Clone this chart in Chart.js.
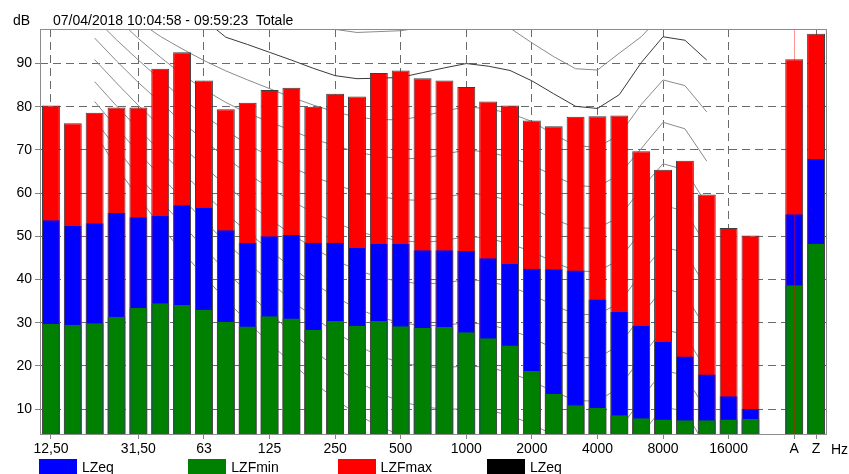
<!DOCTYPE html>
<html>
<head>
<meta charset="utf-8">
<script src="https://cdn.jsdelivr.net/npm/chart.js@4.4.1/dist/chart.umd.min.js"></script>
<style>
  html, body { margin: 0; padding: 0; background: #fff; overflow: hidden; }
  #wrap { position: relative; width: 849px; height: 474px; overflow: hidden;
          font-family: 'Liberation Sans', Arial, sans-serif; font-size: 14px; color: #000; }
  #c { position: absolute; left: 0; top: 0; }
  .t { position: absolute; line-height: 14px; white-space: pre; }
  .key { position: absolute; top: 459px; width: 38px; height: 16px; }
</style>
</head>
<body>
<div id="wrap">
  <canvas id="c" width="849" height="474"></canvas>
  <div class="t" style="left:13px;top:13px">dB</div>
  <div class="t" style="left:53px;top:13px">07/04/2018 10:04:58 - 09:59:23  Totale</div>
  <div class="t" style="left:831px;top:441.5px">Hz</div>
  <div id="legend"></div>
</div>
<script>
// Third-octave bands, then an empty slot and the A / Z broadband totals
const categories = ['12,5','16','20','25','31,5','40','50','63','80','100','125','160','200','250','315','400',
  '500','630','800','1000','1250','1600','2000','2500','3150','4000','5000','6300','8000','10000','12500',
  '16000','20000','','A','Z'];
const tickLabels = ['12,50','','','','31,50','','','63','','','125','','','250','','','500','','','1000','','',
  '2000','','','4000','','','8000','','','16000','','','A','Z'];
const gridAt = [0, 4, 7, 10, 13, 16, 19, 22, 25, 28, 31, 35];
const cursorAt = 34;
const yTicks = [10, 20, 30, 40, 50, 60, 70, 80, 90];

// Levels in dB
const lzfmax = [80.3, 76.2, 78.6, 79.8, 79.8, 88.8, 92.6, 86.1, 79.4, 80.9, 83.9, 84.4, 80.0, 83.0, 82.4, 87.8,
  88.4, 86.6, 86.1, 84.6, 81.2, 80.3, 76.8, 75.5, 77.7, 77.8, 78.0, 69.7, 65.4, 67.5, 59.7, 51.9, 50.2, null, 91.0, 96.9];
const lzeq = [53.7, 52.4, 53.0, 55.4, 54.4, 54.7, 57.2, 56.6, 51.4, 48.5, 50.0, 50.3, 48.5, 48.5, 47.3, 48.2,
  48.2, 46.8, 46.8, 46.6, 44.9, 43.6, 42.5, 42.4, 42.1, 35.4, 32.5, 29.3, 25.6, 22.2, 18.0, 13.0, 10.0, null, 55.1, 67.9];
const lzfmin = [29.7, 29.5, 29.9, 31.4, 33.4, 34.5, 34.1, 33.0, 30.2, 29.1, 31.5, 31.0, 28.3, 30.4, 29.3, 30.4,
  29.2, 28.8, 29.0, 27.8, 26.4, 24.7, 18.8, 13.5, 10.9, 10.3, 8.6, 7.9, 7.6, 7.4, 7.4, 7.6, 7.7, null, 38.7, 48.2];

// Equal-loudness contours, 20 Hz .. 12.5 kHz (band index 2 .. 30)
const contourStart = 2;
const contour0   = [74, 66, 59, 52.5, 46.5, 40.8, 35.3, 30.2, 25.3, 20.7, 16.3, 12.3, 8.8, 6, 4, 2.5, 2, 2, 1.5, 0, -2, -4.5, -6.5, -6.5, -3, 4, 10.5, 9.5, 1];
const contour10  = [77, 70.3, 64, 58.3, 52.8, 47.3, 42, 37, 32.3, 27.8, 23.6, 19.8, 16.5, 13.7, 11.8, 10.5, 10, 10, 9.8, 8.5, 6.5, 4, 2, 1.8, 5.2, 12.3, 19, 17.8, 9.5];
const contour20  = [81.2, 75.2, 69.4, 64, 58.8, 53.6, 48.6, 44, 39.5, 35.2, 31.3, 27.8, 24.8, 22.3, 20.8, 19.8, 19.6, 20, 19.7, 18.4, 16.5, 14, 12, 11.8, 15, 22, 28.5, 27.2, 18.8];
const contour30  = [85.8, 80.2, 74.8, 69.8, 64.8, 60, 55.3, 51, 46.8, 42.8, 39.2, 36, 33.3, 31.3, 30, 29.3, 29.4, 30, 29.6, 28.3, 26.5, 24, 22, 21.8, 24.8, 31.6, 38, 36.6, 28.3];
const contour40  = [90.9, 85.5, 80.3, 75.5, 70.8, 66.2, 61.8, 57.8, 54, 50.5, 47.3, 44.5, 42.2, 40.5, 39.5, 39, 39.2, 40, 39.6, 38.3, 36.5, 34, 32, 31.8, 34.6, 41.4, 47.6, 46.2, 38];
const contour50  = [95.9, 90.6, 85.6, 81, 76.5, 72.2, 68.2, 64.5, 61.2, 58.2, 55.5, 53.2, 51.2, 49.8, 49, 48.6, 49, 50, 49.6, 48.2, 46.5, 44, 42, 41.8, 44.6, 51.2, 57.2, 55.8, 47.8];
const contour60  = [100.5, 95.5, 90.8, 86.3, 82, 78, 74.5, 71.3, 68.5, 66, 63.8, 62, 60.3, 59.2, 58.5, 58.3, 59, 60, 59.6, 58.2, 56.5, 54, 52, 51.8, 54.5, 61, 66.8, 65.4, 57.4];
const contour70  = [106, 100.5, 95.8, 91.5, 87.5, 84, 81, 78.5, 76.5, 74.5, 72.5, 71, 69.5, 68.5, 68, 68, 69, 70, 69.5, 68.3, 66.5, 64, 61.8, 61.4, 64.3, 70.3, 76.4, 74.9, 67.4];
const contour80  = [113, 106.5, 99.8, 96.3, 93.4, 90.7, 88.3, 86.2, 84.2, 82.2, 80.4, 78.8, 77.6, 77, 77, 77.8, 79, 80, 79.5, 78.5, 76.6, 73.6, 71, 70.6, 73.5, 80.5, 86.2, 84.9, 78.8];
const contour90  = [118, 114, 110, 106.5, 103.2, 100.2, 96.1, 94.4, 92.6, 90.8, 88.9, 87.2, 86.5, 86.6, 86.8, 87.9, 89, 90, 89.4, 88.4, 86, 83, 80.1, 79.6, 82.8, 90.2, 96.2, 95.4, 90.8];
const contour100 = [123, 119, 115, 111.5, 108.5, 106, 104, 102.3, 100.8, 99.6, 98.6, 97.9, 97.2, 97.4, 97.6, 98.4, 99.4, 100, 99.6, 98.2, 94.8, 91.6, 88.8, 88.5, 92.4, 96.2, 101.5, 101, 99.5];
const contours = [contour0, contour10, contour20, contour30, contour40, contour50, contour60, contour70, contour80, contour90, contour100];

const legendNames  = ['LZeq', 'LZFmin', 'LZFmax', 'LZeq'];
const legendColors = ['#0000ff', '#008000', '#ff0000', '#000000'];

// Legend row under the axis
const legend = document.getElementById('legend');
legendNames.forEach((name, i) => {
  const left = 39 + i * 149.3;
  const box = document.createElement('div');
  box.className = 'key';
  box.style.left = left + 'px';
  box.style.background = legendColors[i];
  legend.appendChild(box);
  const txt = document.createElement('div');
  txt.className = 't';
  txt.style.left = (left + 43) + 'px';
  txt.style.top = '460px';
  txt.textContent = name;
  legend.appendChild(txt);
});

const FONT = "'Liberation Sans', Arial, sans-serif";
const GRID = '#6a6a6a';
const FRAME = '#8c8c8c';

function padContour(vals) {
  const out = new Array(categories.length).fill(null);
  vals.forEach((v, i) => { out[contourStart + i] = v; });
  return out;
}

const contourSets = contours.map((vals, i) => ({
  type: 'line',
  data: padContour(vals),
  borderColor: i === 9 ? '#3a3a3a' : '#8a8a8a',
  borderWidth: 1,
  pointRadius: 0,
  tension: 0,
  fill: false,
  order: 10 + i
}));

const sideBorder = { left: 1, right: 1, top: 0, bottom: 0 };

const framePlugin = {
  id: 'frame',
  afterDatasetsDraw(chart) {
    const { ctx, chartArea: a, scales } = chart;
    ctx.save();
    // cursor on the A total
    const cx = Math.round(scales.x.getPixelForValue(cursorAt)) + 0.5;
    ctx.strokeStyle = 'rgba(255,0,0,0.42)';
    ctx.lineWidth = 1;
    ctx.beginPath();
    ctx.moveTo(cx, a.top);
    ctx.lineTo(cx, a.bottom);
    ctx.stroke();
    // plot frame
    ctx.strokeStyle = FRAME;
    ctx.strokeRect(Math.round(a.left) + 0.5, Math.round(a.top) + 0.5,
      Math.round(a.right) - Math.round(a.left) - 1, Math.round(a.bottom) - Math.round(a.top) - 1);
    ctx.restore();
  }
};

new Chart(document.getElementById('c'), {
  type: 'bar',
  data: {
    labels: categories,
    datasets: [
      { label: 'LZeq', data: lzeq, backgroundColor: '#0000ff', borderColor: '#4a4a4a',
        borderWidth: sideBorder, order: 1 },
      { label: 'LZFmin', data: lzfmin, backgroundColor: '#008000', borderColor: '#4a4a4a',
        borderWidth: sideBorder, order: 0 },
      { label: 'LZFmax', data: lzfmax, backgroundColor: '#ff0000', borderColor: '#3c3c3c',
        borderWidth: 1, borderSkipped: 'bottom', order: 2 },
      ...contourSets
    ]
  },
  options: {
    responsive: false,
    animation: false,
    devicePixelRatio: 1,
    grouped: false,
    datasets: { bar: { barPercentage: 0.82, categoryPercentage: 1 } },
    layout: { padding: { top: 29, right: 22, bottom: 0, left: 0 } },
    plugins: { legend: { display: false }, tooltip: { enabled: false } },
    scales: {
      x: {
        offset: true,
        afterFit(scale) { scale.height = 39; },
        grid: {
          offset: false,
          drawOnChartArea: true,
          color: ctx => gridAt.includes(ctx.index) ? GRID : 'rgba(0,0,0,0)',
          tickColor: ctx => (gridAt.includes(ctx.index) || ctx.index === cursorAt) ? '#808080' : 'rgba(0,0,0,0)',
          tickLength: 4,
          tickBorderDash: []
        },
        border: { display: false, dash: [8, 5] },
        ticks: {
          autoSkip: false,
          maxRotation: 0,
          padding: 2,
          color: '#000',
          font: { family: FONT, size: 14 },
          callback: (v, i) => tickLabels[i]
        }
      },
      y: {
        min: 4,
        max: 98,
        afterFit(scale) { scale.width = 40; },
        afterBuildTicks(axis) { axis.ticks = yTicks.map(v => ({ value: v })); },
        grid: {
          color: GRID,
          tickColor: '#808080',
          tickLength: 5,
          tickBorderDash: []
        },
        border: { display: false, dash: [8, 5] },
        ticks: {
          padding: 3,
          color: '#000',
          font: { family: FONT, size: 14 }
        }
      }
    }
  },
  plugins: [framePlugin]
});
</script>
</body>
</html>
